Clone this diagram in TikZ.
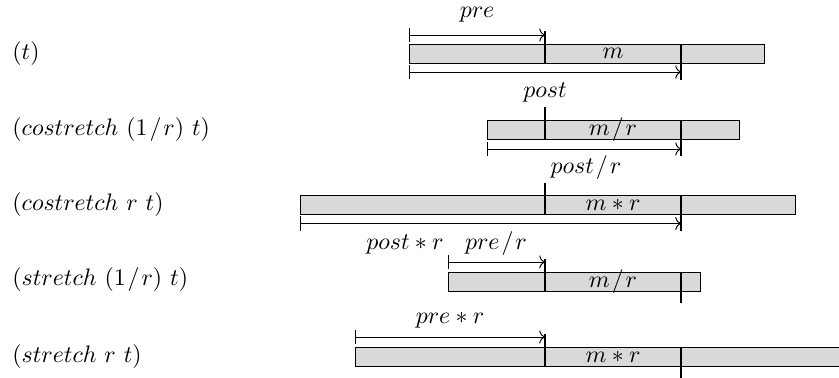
\documentclass[tikz,border=0pt]{standalone}
\usetikzlibrary{arrows.meta}
\newcommand{\myslash}{\mkern1.5mu/\mkern1.5mu}
\tikzset{
  barbox/.style={draw=black, fill=black!15, line width=0.4pt},
  tickline/.style={line width=0.45pt},
  span/.style={line width=0.4pt, {Bar[width=6pt]}-{To[length=2.4pt,width=5.5pt]}},
  lbl/.style={inner sep=0pt, anchor=center},
  rowlbl/.style={inner sep=0pt, anchor=west},
}
\begin{document}
\begin{tikzpicture}[x=0.42pt,y=-0.42pt]
\useasboundingbox (0,0) rectangle (839,377);

% ---------- row 1: (t)
\node[rowlbl] (l1) at (12,53.5) {$(t)$};
\draw[barbox] (409,44) rectangle (764,63);
\node[lbl] (m1) at (613,53.5) {$m$};
\draw[tickline] (545,31) -- (545,63);
\draw[tickline] (681,44) -- (681,80);
\coordinate (p1a) at (409,35); \coordinate (p1b) at (545,35);
\draw[span] (p1a) -- (p1b);
\node[lbl] (pre1) at (477,15) {$pre$};
\coordinate (q1a) at (409,72); \coordinate (q1b) at (681,72);
\draw[span] (q1a) -- (q1b);
\node[lbl] (post1) at (545,92) {$post$};

% ---------- row 2: (costretch (1/r) t)
\node[rowlbl] (l2) at (12,130) {$(costretch\ (1\myslash r)\ t)$};
\draw[barbox] (487,120.5) rectangle (739,139.5);
\node[lbl] (m2) at (613,130) {$m\myslash r$};
\draw[tickline] (545,107) -- (545,139.5);
\draw[tickline] (681,120.5) -- (681,156);
\coordinate (q2a) at (487,149); \coordinate (q2b) at (681,149);
\draw[span] (q2a) -- (q2b);
\node[lbl] (post2) at (586,168) {$post\myslash r$};

% ---------- row 3: (costretch r t)
\node[rowlbl] (l3) at (12,205) {$(costretch\ r\ t)$};
\draw[barbox] (300,195.5) rectangle (795,214.5);
\node[lbl] (m3) at (613,205) {$m*r$};
\draw[tickline] (545,183) -- (545,214.5);
\draw[tickline] (681,195.5) -- (681,231);
\coordinate (q3a) at (300,223.5); \coordinate (q3b) at (681,223.5);
\draw[span] (q3a) -- (q3b);
\node[lbl] (post3) at (405,244) {$post*r$};

% ---------- row 4: (stretch (1/r) t)
\node[rowlbl] (l4) at (12,280) {$(stretch\ (1\myslash r)\ t)$};
\draw[barbox] (448,272) rectangle (700,291);
\node[lbl] (m4) at (613,281.5) {$m\myslash r$};
\draw[tickline] (545,259) -- (545,291);
\draw[tickline] (681,272) -- (681,303);
\coordinate (p4a) at (448,262); \coordinate (p4b) at (545,262);
\draw[span] (p4a) -- (p4b);
\node[lbl] (pre4) at (496,244) {$pre\myslash r$};

% ---------- row 5: (stretch r t)
\node[rowlbl] (l5) at (12,356.5) {$(stretch\ r\ t)$};
\draw[barbox] (355,347) rectangle (880,366);
\node[lbl] (m5) at (613,356.5) {$m*r$};
\draw[tickline] (545,334) -- (545,366);
\draw[tickline] (681,347) -- (681,380);
\coordinate (p5a) at (355,337); \coordinate (p5b) at (545,337);
\draw[span] (p5a) -- (p5b);
\node[lbl] (pre5) at (450,320) {$pre*r$};
\end{tikzpicture}
\end{document}
